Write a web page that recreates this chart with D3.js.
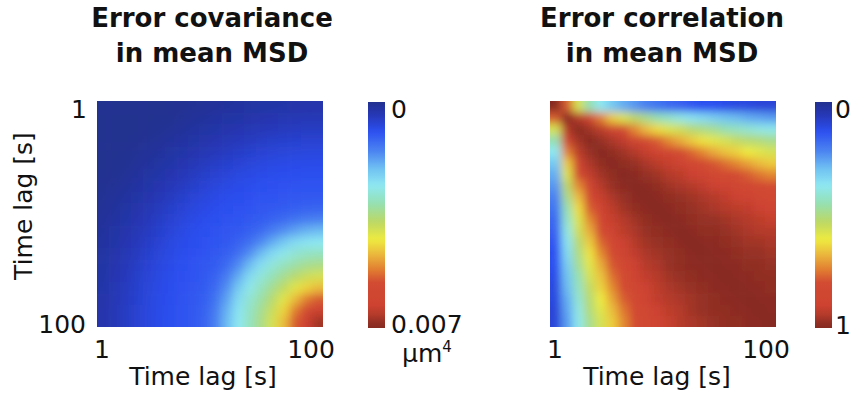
<!DOCTYPE html>
<html><head><meta charset="utf-8">
<script src="https://cdn.jsdelivr.net/npm/d3@7"></script>
<style>html,body{margin:0;padding:0;background:#fff;} svg{display:block;font-family:"DejaVu Sans",sans-serif;}</style>
</head><body><svg id="chart" width="854" height="402"></svg>
<script>
// Time-lag cells (centre of each band, s); axis tick values
const lags = [3,8,13,18,23,28,33,38,43,48,53,58,63,68,73,78,83,88,93,98];
const axisTicks = [1, 100];
const axisTickLabels = ["1", "100"];
const axisLabel = "Time lag [s]";
const covTitle = ["Error covariance", "in mean MSD"];
const corrTitle = ["Error correlation", "in mean MSD"];
// Colour bar ticks
const covBarTicks = [0, 7];            // ×10⁻³ µm⁴
const covBarLabels = ["0", "0.007"];
const covUnit = "µm";
const covUnitExp = "4";
const corrBarTicks = [0, 1];
const corrBarLabels = ["0", "1"];

// Error covariance of mean MSD (×10⁻³ µm⁴), rows = lag (top→bottom), cols = lag (left→right)
const covariance = [
[0,0,0,0,0,0,.01,.03,.05,.07,.10,.13,.16,.19,.22,.24,.26,.27,.28,.29],
[0,0,0,0,0,.01,.03,.06,.10,.13,.17,.21,.24,.28,.31,.34,.36,.38,.39,.39],
[0,0,0,0,.02,.04,.07,.11,.16,.20,.25,.29,.34,.38,.41,.44,.47,.49,.51,.51],
[0,0,0,.02,.05,.08,.13,.18,.23,.28,.34,.39,.44,.48,.53,.57,.60,.62,.63,.64],
[0,0,.02,.05,.09,.13,.19,.25,.31,.37,.43,.49,.55,.60,.65,.68,.71,.73,.74,.75],
[0,.01,.04,.08,.13,.19,.26,.33,.39,.46,.54,.60,.66,.71,.75,.78,.81,.82,.83,.84],
[.01,.03,.07,.13,.19,.26,.33,.41,.48,.57,.64,.70,.76,.80,.83,.86,.88,.89,.90,.90],
[.03,.06,.11,.18,.25,.33,.41,.49,.58,.66,.73,.79,.83,.87,.90,.92,.93,.94,.95,.95],
[.05,.10,.16,.23,.31,.39,.48,.58,.67,.74,.81,.86,.89,.92,.94,.96,.98,1.00,1.01,1.01],
[.07,.13,.20,.28,.37,.46,.57,.66,.74,.81,.87,.90,.93,.96,.99,1.02,1.05,1.09,1.13,1.15],
[.10,.17,.25,.34,.43,.54,.64,.73,.81,.87,.91,.94,.97,1.01,1.05,1.15,1.23,1.33,1.42,1.47],
[.13,.21,.29,.39,.49,.60,.70,.79,.86,.90,.94,.98,1.03,1.11,1.23,1.42,1.61,1.79,1.94,2.02],
[.16,.24,.34,.44,.55,.66,.76,.83,.89,.93,.97,1.03,1.13,1.28,1.56,1.87,2.17,2.40,2.53,2.59],
[.19,.28,.38,.48,.60,.71,.80,.87,.92,.96,1.01,1.11,1.28,1.61,2.02,2.40,2.66,2.86,2.98,3.04],
[.22,.31,.41,.53,.65,.75,.83,.90,.94,.99,1.05,1.23,1.56,2.02,2.46,2.80,3.04,3.23,3.38,3.46],
[.24,.34,.44,.57,.68,.78,.86,.92,.96,1.02,1.15,1.42,1.87,2.40,2.80,3.10,3.38,3.63,3.85,3.98],
[.26,.36,.47,.60,.71,.81,.88,.93,.98,1.05,1.23,1.61,2.17,2.66,3.04,3.38,3.73,4.12,4.45,4.67],
[.27,.38,.49,.62,.73,.82,.89,.94,1.00,1.09,1.33,1.79,2.40,2.86,3.23,3.63,4.12,4.67,5.17,5.46],
[.28,.39,.51,.63,.74,.83,.90,.95,1.01,1.13,1.42,1.94,2.53,2.98,3.38,3.85,4.45,5.17,5.80,6.19],
[.29,.39,.51,.64,.75,.84,.90,.95,1.01,1.15,1.47,2.02,2.59,3.04,3.46,3.98,4.67,5.46,6.19,6.72]
];

// Error correlation of mean MSD
const correlation = [
[1.00,.78,.57,.45,.37,.31,.27,.24,.21,.19,.17,.16,.14,.13,.13,.12,.11,.11,.10,.10],
[.78,1.00,.94,.85,.74,.65,.58,.53,.49,.45,.42,.39,.36,.34,.32,.30,.29,.27,.26,.25],
[.57,.94,1.00,.96,.93,.86,.80,.73,.67,.63,.58,.56,.52,.50,.48,.45,.43,.41,.39,.38],
[.45,.85,.96,1.00,.97,.95,.92,.87,.83,.78,.73,.69,.65,.62,.59,.57,.54,.52,.51,.49],
[.37,.74,.93,.97,1.00,.98,.96,.94,.91,.87,.84,.81,.77,.73,.69,.66,.64,.61,.59,.57],
[.31,.65,.86,.95,.98,1.00,.98,.97,.95,.93,.91,.88,.85,.82,.79,.76,.73,.70,.67,.65],
[.27,.58,.80,.92,.96,.98,1.00,.99,.97,.96,.94,.93,.90,.88,.85,.83,.81,.78,.75,.73],
[.24,.53,.73,.87,.94,.97,.99,1.00,.99,.98,.96,.95,.94,.92,.90,.88,.86,.84,.82,.80],
[.21,.49,.67,.83,.91,.95,.97,.99,1.00,.99,.98,.97,.96,.95,.94,.92,.90,.88,.86,.84],
[.19,.45,.63,.78,.87,.93,.96,.98,.99,1.00,.99,.98,.97,.96,.95,.94,.93,.92,.90,.88],
[.17,.42,.58,.73,.84,.91,.94,.96,.98,.99,1.00,.99,.98,.97,.97,.96,.95,.94,.93,.91],
[.16,.39,.56,.69,.81,.88,.93,.95,.97,.98,.99,1.00,.99,.98,.98,.97,.96,.95,.94,.94],
[.14,.36,.52,.65,.77,.85,.90,.94,.96,.97,.98,.99,1.00,.99,.99,.98,.97,.96,.96,.95],
[.13,.34,.50,.62,.73,.82,.88,.92,.95,.96,.97,.98,.99,1.00,.99,.99,.98,.97,.97,.96],
[.13,.32,.48,.59,.69,.79,.85,.90,.94,.95,.97,.98,.99,.99,1.00,.99,.99,.98,.98,.97],
[.12,.30,.45,.57,.66,.76,.83,.88,.92,.94,.96,.97,.98,.99,.99,1.00,.99,.99,.98,.98],
[.11,.29,.43,.54,.64,.73,.81,.86,.90,.93,.95,.96,.97,.98,.99,.99,1.00,.99,.99,.98],
[.11,.27,.41,.52,.61,.70,.78,.84,.88,.92,.94,.95,.96,.97,.98,.99,.99,1.00,.99,.99],
[.10,.26,.39,.51,.59,.67,.75,.82,.86,.90,.93,.94,.96,.97,.98,.98,.99,.99,1.00,.99],
[.10,.25,.38,.49,.57,.65,.73,.80,.84,.88,.91,.94,.95,.96,.97,.98,.98,.99,.99,1.00]
];

// Colormap (fraction of colour bar, top → bottom)
const cmapStops = [0, .06, .13, .22, .30, .37, .45, .53, .61, .68, .74, .80, .90, .945, .97, 1];
const cmapColors = ["#22308f","#2638b8","#2c4ff0","#4c86f1","#72c4f2","#8fe8f2","#95e0b2","#bcd865",
                    "#efeb3f","#eab33c","#e17f31","#d24b32","#cd4230","#b23a2a","#963025","#862a20"];

const svg = d3.select("#chart");
const defs = svg.append("defs");
const SIZE = 226;
const Y0 = 101;
const ink = "#111";

function makeColor(domainMax) {
  return d3.scaleLinear().domain(cmapStops.map(t => t * domainMax)).range(cmapColors)
    .interpolate(d3.interpolateRgb).clamp(true);
}

function heatmap(id, x0, matrix, color, blur) {
  const xb = d3.scaleBand().domain(lags).range([x0, x0 + SIZE]);
  const yb = d3.scaleBand().domain(lags).range([Y0, Y0 + SIZE]);
  const bw = xb.bandwidth();
  const ext = 16, n = lags.length;
  defs.append("clipPath").attr("id", "clip" + id)
    .append("rect").attr("x", x0).attr("y", Y0).attr("width", SIZE).attr("height", SIZE);
  defs.append("filter").attr("id", "blur" + id).attr("filterUnits", "userSpaceOnUse")
    .attr("x", x0 - 40).attr("y", Y0 - 40).attr("width", SIZE + 80).attr("height", SIZE + 80)
    .append("feGaussianBlur").attr("stdDeviation", blur);
  const cells = [];
  matrix.forEach((row, i) => row.forEach((v, j) => cells.push({i, j, v})));
  const outer = svg.append("g").attr("clip-path", `url(#clip${id})`);
  outer.append("g").attr("filter", `url(#blur${id})`)
    .selectAll("rect").data(cells).join("rect")
    .attr("x", d => xb(lags[d.j]) - (d.j === 0 ? ext : 0))
    .attr("y", d => yb(lags[d.i]) - (d.i === 0 ? ext : 0))
    .attr("width", d => bw + 0.6 + (d.j === 0 ? ext : 0) + (d.j === n - 1 ? ext : 0))
    .attr("height", d => bw + 0.6 + (d.i === 0 ? ext : 0) + (d.i === n - 1 ? ext : 0))
    .attr("fill", d => color(d.v));
  return d3.scaleLinear().domain(axisTicks).range([x0, x0 + SIZE]);
}

function colorbar(id, x, ticks, color) {
  const w = 17, y1 = 102, y2 = 328;
  const ys = d3.scaleLinear().domain(ticks).range([y1, y2]);
  const grad = defs.append("linearGradient").attr("id", "grad" + id)
    .attr("x1", 0).attr("y1", 0).attr("x2", 0).attr("y2", 1);
  d3.range(0, 1.0001, 0.02).forEach(t => {
    grad.append("stop").attr("offset", t).attr("stop-color", color(ticks[0] + t * (ticks[1] - ticks[0])));
  });
  svg.append("rect").attr("x", x).attr("y", y1).attr("width", w).attr("height", y2 - y1)
    .attr("fill", `url(#grad${id})`);
  return {ys, right: x + w};
}

function title(cx, lines) {
  svg.append("text").attr("x", cx).attr("y", 27).attr("text-anchor", "middle")
    .attr("font-size", 26).attr("font-weight", "bold").attr("fill", ink).text(lines[0]);
  svg.append("text").attr("x", cx).attr("y", 62).attr("text-anchor", "middle")
    .attr("font-size", 26).attr("font-weight", "bold").attr("fill", ink).text(lines[1]);
}

function txt(x, y, s, anchor) {
  return svg.append("text").attr("x", x).attr("y", y).attr("text-anchor", anchor || "start")
    .attr("font-size", 25).attr("fill", ink).text(s);
}

// ---- Left panel: covariance
const covColor = makeColor(covBarTicks[1]);
const xL = heatmap("L", 97, covariance, covColor, 5);
const yL = d3.scaleLinear().domain(axisTicks).range([Y0, Y0 + SIZE]);
title(212, covTitle);
txt(xL(axisTicks[0]) + 5, 358, axisTickLabels[0], "middle");
txt(xL(axisTicks[1]) - 12, 358, axisTickLabels[1], "middle");
txt(87, yL(axisTicks[0]) + 17, axisTickLabels[0], "end");
txt(86, yL(axisTicks[1]) + 6, axisTickLabels[1], "end");
txt(203, 385, axisLabel, "middle");
svg.append("text").attr("transform", "translate(32,206) rotate(-90)").attr("text-anchor", "middle")
  .attr("font-size", 25).attr("fill", ink).text(axisLabel);
const cbL = colorbar("L", 368, covBarTicks, covColor);
txt(cbL.right + 6, cbL.ys(covBarTicks[0]) + 16, covBarLabels[0]);
txt(cbL.right + 6, cbL.ys(covBarTicks[1]) + 5, covBarLabels[1]);
const unit = txt(cbL.right + 17, 362, covUnit);
unit.append("tspan").attr("font-size", 15).attr("dy", -10).text(covUnitExp);

// ---- Right panel: correlation
const corrColor = makeColor(corrBarTicks[1]);
const xR = heatmap("R", 550, correlation, corrColor, 4);
title(662, corrTitle);
txt(xR(axisTicks[0]) + 5, 358, axisTickLabels[0], "middle");
txt(xR(axisTicks[1]) - 10, 358, axisTickLabels[1], "middle");
txt(657, 385, axisLabel, "middle");
const cbR = colorbar("R", 815, corrBarTicks, corrColor);
txt(cbR.right + 3, cbR.ys(corrBarTicks[0]) + 16, corrBarLabels[0]);
txt(cbR.right + 3, cbR.ys(corrBarTicks[1]) + 6, corrBarLabels[1]);
</script>
</body></html>
